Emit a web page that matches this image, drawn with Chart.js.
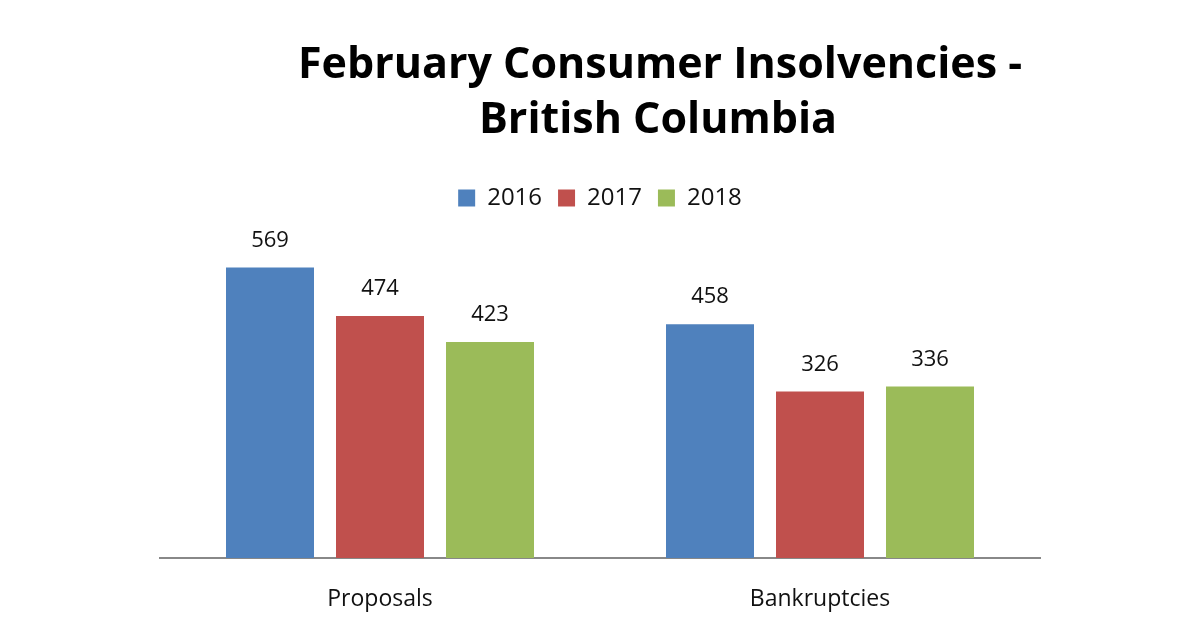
<!DOCTYPE html>
<html>
<head>
<meta charset="utf-8">
<script src="https://cdn.jsdelivr.net/npm/chart.js@4/dist/chart.umd.min.js"></script>
<style>
  html, body { margin: 0; padding: 0; background: #fff; }
  #wrap { width: 1200px; height: 627px; }
</style>
</head>
<body>
<div id="wrap"><canvas id="grafico"></canvas></div>
<script>
// Datos
const categorias = ['Proposals', 'Bankruptcies'];
const anios = ['2016', '2017', '2018'];
const valores2016 = [569, 458];
const valores2017 = [474, 326];
const valores2018 = [423, 336];
const colores = ['#4F81BD', '#C0504D', '#9BBB59'];
const tituloLineas = ['February Consumer Insolvencies -', 'British Columbia'];

const fuente = '"Open Sans", sans-serif';

// Titulo desplazado a la derecha como en el original
const tituloPlugin = {
  id: 'tituloPlugin',
  afterDraw(chart) {
    const ctx = chart.ctx;
    ctx.save();
    ctx.fillStyle = '#000';
    ctx.font = 'bold 43px ' + fuente;
    ctx.textAlign = 'center';
    ctx.textBaseline = 'alphabetic';
    ctx.fillText(tituloLineas[0], 660, 78);
    ctx.fillText(tituloLineas[1], 658, 133);
    ctx.restore();
  }
};

// Etiquetas de valor encima de cada barra
const etiquetasPlugin = {
  id: 'etiquetasPlugin',
  afterDatasetsDraw(chart) {
    const ctx = chart.ctx;
    ctx.save();
    ctx.fillStyle = '#111';
    ctx.font = '22px ' + fuente;
    ctx.textAlign = 'center';
    ctx.textBaseline = 'middle';
    chart.data.datasets.forEach((ds, i) => {
      chart.getDatasetMeta(i).data.forEach((bar, j) => {
        ctx.fillText(ds.data[j], bar.x, bar.y - 27);
      });
    });
    ctx.restore();
  }
};

const series = [valores2016, valores2017, valores2018];

new Chart(document.getElementById('grafico').getContext('2d'), {
  type: 'bar',
  data: {
    labels: categorias,
    datasets: series.map((vals, i) => ({
      label: anios[i],
      data: vals,
      backgroundColor: colores[i],
      categoryPercentage: 0.75,
      barPercentage: 0.8
    }))
  },
  options: {
    responsive: true,
    maintainAspectRatio: false,
    animation: false,
    layout: { padding: { top: 170, left: 160, right: 160, bottom: 0 } },
    plugins: {
      title: { display: false },
      tooltip: { enabled: false },
      legend: {
        display: true,
        position: 'top',
        labels: {
          boxWidth: 17,
          boxHeight: 17,
          padding: 16,
          color: '#111',
          font: { size: 24, family: fuente }
        }
      }
    },
    scales: {
      x: {
        grid: { display: false },
        border: { display: true, color: '#888', width: 2 },
        afterFit(scale) { scale.height = 69; },
        ticks: {
          color: '#111',
          padding: 20,
          font: { size: 23, family: fuente }
        }
      },
      y: {
        display: false,
        min: 0,
        max: 662
      }
    }
  },
  plugins: [tituloPlugin, etiquetasPlugin]
});
</script>
</body>
</html>
